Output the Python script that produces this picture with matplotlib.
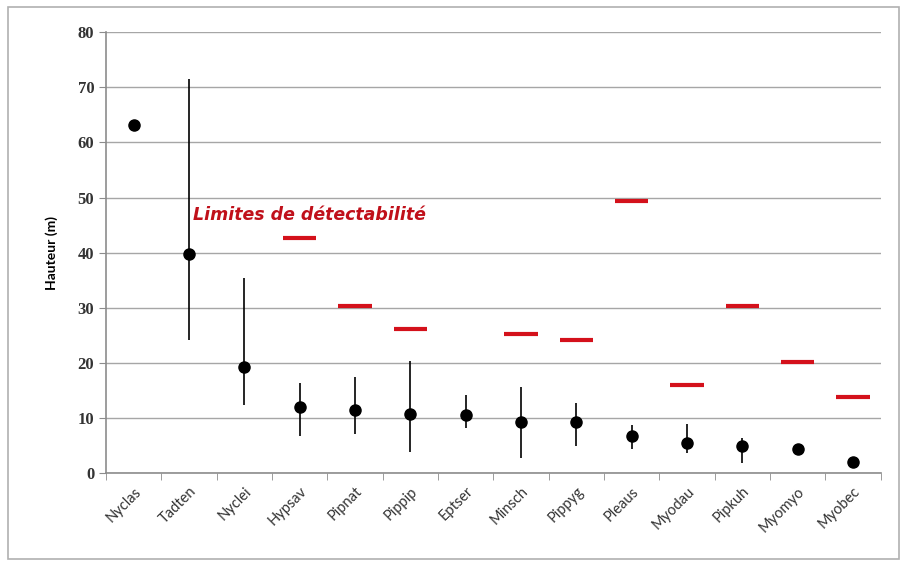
import matplotlib
matplotlib.use("Agg")
import matplotlib.pyplot as plt
from matplotlib.patches import Rectangle
import numpy as np

# Espèces et hauteurs de vol (m)
especes = ['Nyclas', 'Tadten', 'Nyclei', 'Hypsav', 'Pipnat', 'Pippip', 'Eptser',
           'Minsch', 'Pippyg', 'Pleaus', 'Myodau', 'Pipkuh', 'Myomyo', 'Myobec']
hauteur = [63.2, 39.7, 19.2, 12.0, 11.4, 10.7, 10.5, 9.3, 9.3, 6.7, 5.4, 4.9, 4.4, 2.0]
haut_max = [63.2, 71.5, 35.4, 16.3, 17.4, 20.3, 14.2, 15.6, 12.7, 8.7, 8.9, 6.4, 4.4, 2.0]
haut_min = [63.2, 24.1, 12.3, 6.7, 7.1, 3.8, 8.2, 2.7, 4.9, 4.4, 3.6, 1.8, 4.4, 2.0]

# Limites de détectabilité (nan = pas de limite)
limite = [np.nan, np.nan, np.nan, 42.7, 30.4, 26.2, np.nan, 25.2, 24.1, 49.4,
          16.0, 30.3, 20.1, 13.8]

plt.rcParams['font.family'] = ['Lato', 'DejaVu Sans']

fig = plt.figure(figsize=(9.07, 5.66), dpi=100)
ax = fig.add_axes([0.117, 0.164, 0.854, 0.779])

x = np.arange(len(especes))
h = np.array(hauteur)
err = [h - np.array(haut_min), np.array(haut_max) - h]

ax.errorbar(x, h, yerr=err, fmt='o', color='black', ecolor='black',
            elinewidth=1.2, capsize=0, markersize=8, zorder=3)

lim = np.array(limite)
ok = ~np.isnan(lim)
ax.hlines(lim[ok], x[ok] - 0.3, x[ok] + 0.3, colors='#d4111b', linewidth=3, zorder=3)

ax.text(1.07, 46.8, 'Limites de détectabilité', color='#c0101a', fontsize=12.5,
        fontweight='bold', fontstyle='italic', va='center', ha='left',
        family=['DejaVu Sans'])

ax.set_xlim(-0.5, len(especes) - 0.5)
ax.set_ylim(0, 80)
ax.set_yticks(range(0, 81, 10))
ax.set_yticklabels([str(v) for v in range(0, 81, 10)], fontsize=12,
                   family=['Liberation Serif'], fontweight='bold', color='#333333')
ax.yaxis.grid(True, color='#a6a6a6', linewidth=1)
ax.set_axisbelow(True)

ax.set_xticks(x)
ax.set_xticklabels(especes, rotation=45, ha='right', rotation_mode='anchor',
                   fontsize=10.5, color='#333333')
ax.set_xticks(np.arange(-0.5, len(especes)), minor=True)
ax.tick_params(axis='x', which='major', length=0, pad=8)
ax.tick_params(axis='x', which='minor', length=5, color='#8c8c8c', direction='out')
ax.tick_params(axis='y', length=5, color='#8c8c8c', direction='out')

for s in ['top', 'right']:
    ax.spines[s].set_visible(False)
for s in ['left', 'bottom']:
    ax.spines[s].set_color('#8c8c8c')
    ax.spines[s].set_linewidth(1.2)

ax.set_ylabel('Hauteur (m)', fontsize=10, fontweight='bold', labelpad=14)

fig.patches.append(Rectangle((0.009, 0.012), 0.982, 0.976, transform=fig.transFigure,
                             fill=False, edgecolor='#b0b0b0', linewidth=1.2))

fig.savefig('out.png', dpi=100)
